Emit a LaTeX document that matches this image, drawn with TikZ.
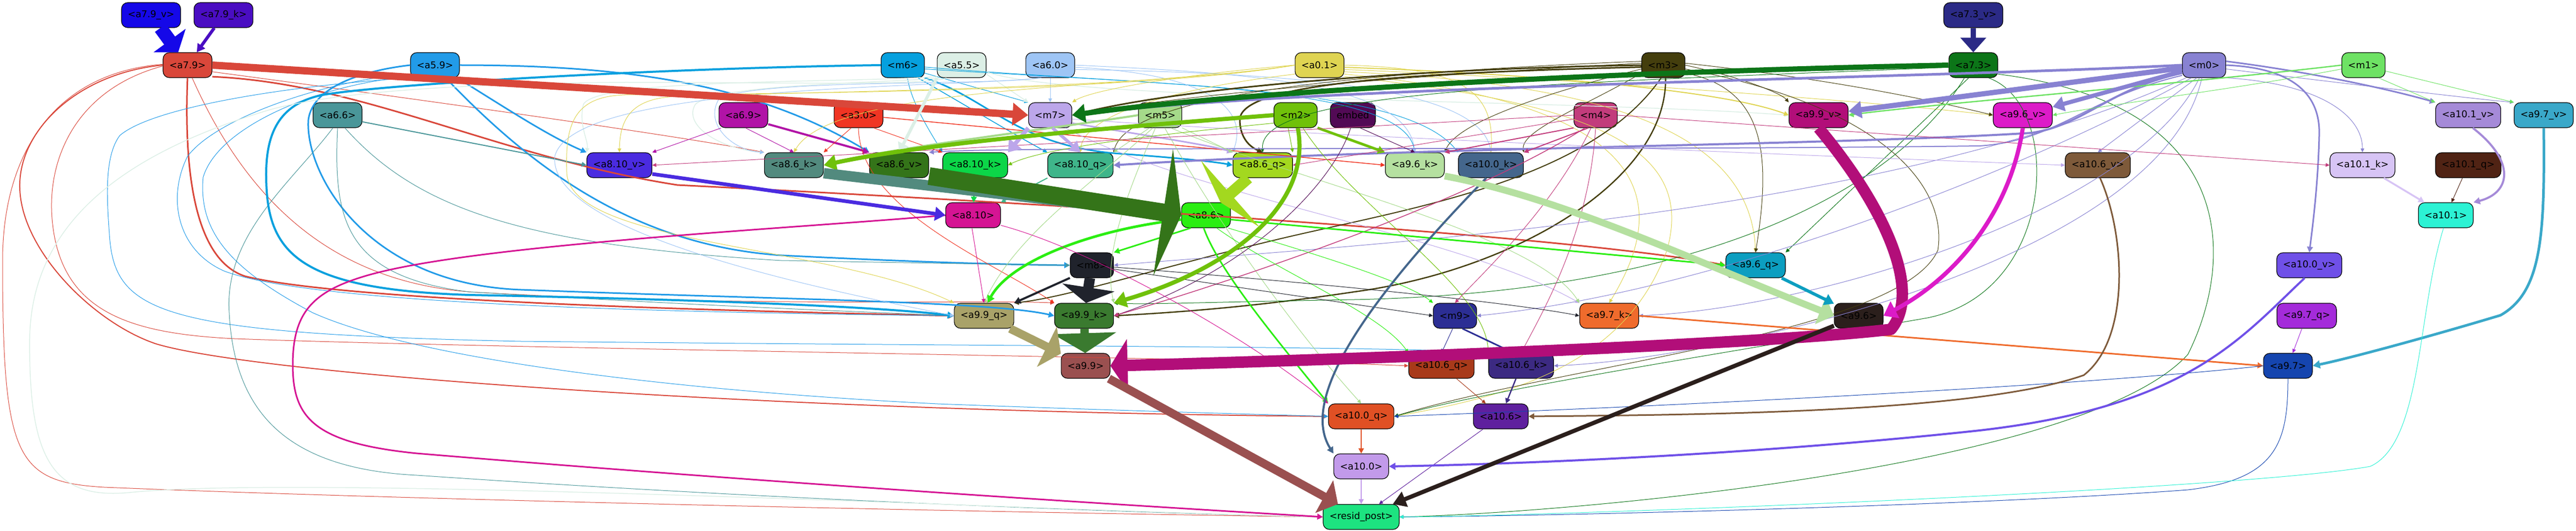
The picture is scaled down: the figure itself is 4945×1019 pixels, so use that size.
\documentclass[tikz,border=0pt]{standalone}
\usepackage{fontspec}
\setmainfont{DejaVu Sans}
\usetikzlibrary{arrows.meta}
\definecolor{ca79v}{HTML}{1508E8}
\definecolor{ca79k}{HTML}{4A0DC2}
\definecolor{ca79}{HTML}{D9473A}
\definecolor{ca59}{HTML}{229BE8}
\definecolor{ca66}{HTML}{4A9699}
\definecolor{cm6}{HTML}{06A0DE}
\definecolor{ca55}{HTML}{DCEFE6}
\definecolor{ca60}{HTML}{9EC5F5}
\definecolor{ca01}{HTML}{DFD452}
\definecolor{cm3}{HTML}{443E0D}
\definecolor{ca73v}{HTML}{2B2A86}
\definecolor{ca73}{HTML}{0C7518}
\definecolor{cm0}{HTML}{8882D2}
\definecolor{cm1}{HTML}{6EE264}
\definecolor{ca69}{HTML}{B113A6}
\definecolor{ca30}{HTML}{F03523}
\definecolor{cm7}{HTML}{BCA6EA}
\definecolor{cm5}{HTML}{A5DA8A}
\definecolor{cm2}{HTML}{70C10A}
\definecolor{cemb}{HTML}{520A55}
\definecolor{cm4}{HTML}{C23C7C}
\definecolor{ca99v}{HTML}{B20E79}
\definecolor{ca96v}{HTML}{DC1BC8}
\definecolor{ca101v}{HTML}{A58AD8}
\definecolor{ca97v}{HTML}{3AA8C9}
\definecolor{ca810v}{HTML}{4A2BE0}
\definecolor{ca86k}{HTML}{528A7E}
\definecolor{ca86v}{HTML}{347419}
\definecolor{ca810k}{HTML}{0CD648}
\definecolor{ca810q}{HTML}{3FB58A}
\definecolor{ca86q}{HTML}{A3D81F}
\definecolor{ca96k}{HTML}{B5E0A0}
\definecolor{ca100k}{HTML}{44668C}
\definecolor{ca106v}{HTML}{7E5A3A}
\definecolor{ca101k}{HTML}{D7C4F5}
\definecolor{ca101q}{HTML}{502314}
\definecolor{ca810}{HTML}{D51493}
\definecolor{ca86}{HTML}{2BEE12}
\definecolor{ca101}{HTML}{2CF2D4}
\definecolor{cm8}{HTML}{20232C}
\definecolor{ca96q}{HTML}{0C9EC0}
\definecolor{ca100v}{HTML}{6F50E8}
\definecolor{ca99q}{HTML}{A9A269}
\definecolor{ca99k}{HTML}{3A7A2F}
\definecolor{cm9}{HTML}{2C2E94}
\definecolor{ca97k}{HTML}{EF6B2C}
\definecolor{ca96}{HTML}{2B1F1C}
\definecolor{ca97q}{HTML}{A42BDA}
\definecolor{ca106q}{HTML}{A83A1A}
\definecolor{ca106k}{HTML}{3C2A82}
\definecolor{ca99}{HTML}{9A5050}
\definecolor{ca97}{HTML}{1545AF}
\definecolor{ca100q}{HTML}{E05024}
\definecolor{ca106}{HTML}{5F209E}
\definecolor{ca100}{HTML}{C29AEA}
\definecolor{crp}{HTML}{1DE380}
\tikzset{
 nd/.style={draw=black,line width=1.2pt,rounded corners=12pt,minimum height=48pt,inner xsep=12pt,inner ysep=0pt,font=\fontsize{18}{20}\selectfont,text=black},
 eg/.style 2 args={draw=#1,line width=#2pt,line join=round,-{Triangle[length=6pt 1.6,width=5pt 2]}},
 hv/.style n args={4}{draw=#1,line width=#2pt,line join=round,-{Triangle[length=#3pt,width=#4pt]}},
}
\begin{document}
\begin{tikzpicture}[x=1pt,y=-1pt]
\useasboundingbox (0,0) rectangle (4945,1019);
% nodes
\node[nd,fill=ca79v] (a79v) at (290,29) {<a7.9\_v>};
\node[nd,fill=ca79k] (a79k) at (429,29) {<a7.9\_k>};
\node[nd,fill=ca73v] (a73v) at (3788,29) {<a7.3\_v>};
\node[nd,fill=ca79] (a79) at (360,125) {<a7.9>};
\node[nd,fill=ca59] (a59) at (835,125) {<a5.9>};
\node[nd,fill=cm6] (m6) at (1733,125) {<m6>};
\node[nd,fill=ca55] (a55) at (1846,125) {<a5.5>};
\node[nd,fill=ca60] (a60) at (2016,125) {<a6.0>};
\node[nd,fill=ca01] (a01) at (2533,125) {<a0.1>};
\node[nd,fill=cm3] (m3) at (3193,125) {<m3>};
\node[nd,fill=ca73] (a73) at (3788,125) {<a7.3>};
\node[nd,fill=cm0] (m0) at (4231,125) {<m0>};
\node[nd,fill=cm1] (m1) at (4537,125) {<m1>};
\node[nd,fill=ca66] (a66) at (648,221) {<a6.6>};
\node[nd,fill=ca69] (a69) at (1427,221) {<a6.9>};
\node[nd,fill=ca30] (a30) at (1648,221) {<a3.0>};
\node[nd,fill=cm7] (m7) at (2016,221) {<m7>};
\node[nd,fill=cm5] (m5) at (2227,221) {<m5>};
\node[nd,fill=cm2] (m2) at (2487,221) {<m2>};
\node[nd,fill=cemb] (emb) at (2597,221) {embed};
\node[nd,fill=cm4] (m4) at (3063,221) {<m4>};
\node[nd,fill=ca99v] (a99v) at (3491,221) {<a9.9\_v>};
\node[nd,fill=ca96v] (a96v) at (3883,221) {<a9.6\_v>};
\node[nd,fill=ca101v] (a101v) at (4738,221) {<a10.1\_v>};
\node[nd,fill=ca97v] (a97v) at (4883,221) {<a9.7\_v>};
\node[nd,fill=ca810v] (a810v) at (1189,317) {<a8.10\_v>};
\node[nd,fill=ca86k] (a86k) at (1524,317) {<a8.6\_k>};
\node[nd,fill=ca86v] (a86v) at (1726,317) {<a8.6\_v>};
\node[nd,fill=ca810k] (a810k) at (1872,317) {<a8.10\_k>};
\node[nd,fill=ca810q] (a810q) at (2074,317) {<a8.10\_q>};
\node[nd,fill=ca86q] (a86q) at (2424,317) {<a8.6\_q>};
\node[nd,fill=ca96k] (a96k) at (2716,317) {<a9.6\_k>};
\node[nd,fill=ca100k] (a100k) at (2862,317) {<a10.0\_k>};
\node[nd,fill=ca106v] (a106v) at (4027,317) {<a10.6\_v>};
\node[nd,fill=ca101k] (a101k) at (4535,317) {<a10.1\_k>};
\node[nd,fill=ca101q] (a101q) at (4738,317) {<a10.1\_q>};
\node[nd,fill=ca810] (a810) at (1868,413) {<a8.10>};
\node[nd,fill=ca86] (a86) at (2315,413) {<a8.6>};
\node[nd,fill=ca101] (a101) at (4695,413) {<a10.1>};
\node[nd,fill=cm8] (m8) at (2096,509) {<m8>};
\node[nd,fill=ca96q] (a96q) at (3370,509) {<a9.6\_q>};
\node[nd,fill=ca100v] (a100v) at (4433,509) {<a10.0\_v>};
\node[nd,fill=ca99q] (a99q) at (1889,606) {<a9.9\_q>};
\node[nd,fill=ca99k] (a99k) at (2081,606) {<a9.9\_k>};
\node[nd,fill=cm9] (m9) at (2793,606) {<m9>};
\node[nd,fill=ca97k] (a97k) at (3089,606) {<a9.7\_k>};
\node[nd,fill=ca96] (a96) at (3568,606) {<a9.6>};
\node[nd,fill=ca97q] (a97q) at (4428,606) {<a9.7\_q>};
\node[nd,fill=ca99] (a99) at (2084,702) {<a9.9>};
\node[nd,fill=ca106q] (a106q) at (2767,702) {<a10.6\_q>};
\node[nd,fill=ca106k] (a106k) at (2920,702) {<a10.6\_k>};
\node[nd,fill=ca97] (a97) at (4392,702) {<a9.7>};
\node[nd,fill=ca100q] (a100q) at (2613,799) {<a10.0\_q>};
\node[nd,fill=ca106] (a106) at (2881,799) {<a10.6>};
\node[nd,fill=ca100] (a100) at (2613,895) {<a10.0>};
\node[nd,fill=crp] (rp) at (2613,992) {<resid\_post>};
% a7.9 thin
\draw[eg={ca79}{1}] (a79.-15) .. controls (800,190) and (1300,260) .. (a86k.north west);
\draw[eg={ca79}{3}] (a79.-25) .. controls (700,160) and (950,300) .. (1300,355) .. controls (2000,390) and (3000,450) .. (a96q.west);
\draw[eg={ca79}{3}] (a79.south) .. controls (352,350) and (380,500) .. (470,530) .. controls (650,575) and (1300,595) .. (a99q.west);
\draw[eg={ca79}{2}] (a79.west) .. controls (150,140) and (35,250) .. (38,360) .. controls (40,480) and (180,620) .. (300,660) .. controls (500,720) and (1500,790) .. (a100q.west);
\draw[eg={ca79}{1}] (a79.182) .. controls (150,170) and (90,300) .. (100,420) .. controls (115,600) and (250,640) .. (450,650) .. controls (1000,670) and (2300,685) .. (a106q.west);
\draw[eg={ca79}{1}] (a79.178) .. controls (100,140) and (5,300) .. (5,500) .. controls (5,880) and (30,925) .. (200,935) .. controls (800,960) and (2000,985) .. (rp.west);
\draw[eg={ca79}{1}] (a79.-70) .. controls (480,400) and (650,540) .. (900,560) .. controls (1400,590) and (1900,575) .. (a99k.north west);
% a5.9
\draw[eg={ca59}{3}] (a59.-30) .. controls (960,200) and (1050,260) .. (a810v.north west);
\draw[eg={ca59}{3}] (a59.east) .. controls (1200,125) and (1450,160) .. (a86v.north west);
\draw[eg={ca59}{3}] (a59.-50) .. controls (1000,300) and (1200,470) .. (1500,490) .. controls (1800,505) and (1950,508) .. (m8.west);
\draw[eg={ca59}{3}] (a59.west) .. controls (700,135) and (600,165) .. (592,230) .. controls (585,330) and (700,545) .. (1000,556) .. controls (1500,575) and (1900,578) .. (a99k.west);
\draw[eg={ca59}{1}] (a59.200) .. controls (650,150) and (420,220) .. (360,300) .. controls (320,380) and (340,480) .. (430,520) .. controls (600,585) and (1300,600) .. (a99q.west);
\draw[eg={ca59}{1}] (a59.205) .. controls (620,160) and (420,240) .. (390,340) .. controls (380,450) and (450,520) .. (600,600) .. controls (800,690) and (1300,750) .. (1800,775) .. controls (2200,790) and (2450,796) .. (a100q.west);
\draw[eg={ca59}{1}] (a59.210) .. controls (600,160) and (300,200) .. (230,260) .. controls (200,300) and (205,380) .. (210,450) .. controls (220,600) and (300,640) .. (1000,655) .. controls (2000,665) and (2700,665) .. (a106k.north west);
% a6.6
\draw[eg={ca66}{2}] (a66.-15) -- (a810v.west);
\draw[eg={ca66}{1}] (a66.250) .. controls (560,350) and (430,450) .. (440,600) .. controls (450,800) and (560,900) .. (800,912) .. controls (1500,960) and (2200,985) .. (rp.west);
\draw[eg={ca66}{1}] (a66.-60) .. controls (800,400) and (1000,470) .. (1500,500) .. controls (1800,505) and (1950,508) .. (m8.west);
\draw[eg={ca66}{1}] (a66.-90) .. controls (640,420) and (660,530) .. (900,560) .. controls (1400,590) and (1700,600) .. (a99q.west);
% m6
\draw[eg={cm6}{4}] (m6.west) .. controls (1300,130) and (750,160) .. (620,182) .. controls (540,198) and (512,250) .. (511,330) .. controls (510,480) and (560,555) .. (900,566) .. controls (1400,576) and (1700,590) .. (a99q.west);
\draw[eg={cm6}{1}] (m6.-20) -- (m7.north west);
\draw[eg={cm6}{1.5}] (m6.-40) .. controls (1850,200) and (1950,260) .. (a810q.north west);
\draw[eg={cm6}{3}] (m6.-30) .. controls (1900,190) and (1950,280) .. (2150,295) .. controls (2250,302) and (2330,310) .. (a86q.west);
\draw[eg={cm6}{1}] (m6.-70) .. controls (1750,200) and (1790,260) .. (a810k.north west);
\draw[eg={cm6}{1}] (m6.-5) .. controls (2200,165) and (2690,160) .. (a96k.north);
\draw[eg={cm6}{1}] (m6.-10) .. controls (2300,165) and (2700,170) .. (a100k.north west);
% a5.5
\draw[eg={ca55}{1.5}] (a55.-20) -- (m7.north west);
\draw[eg={ca55}{1.5}] (a55.-15) .. controls (2050,195) and (3000,190) .. (a99v.west);
\draw[eg={ca55}{1.5}] (a55.210) .. controls (1700,160) and (1380,160) .. (1335,200) .. controls (1310,240) and (1380,285) .. (a86k.north west);
\draw[eg={ca55}{1.5}] (a55.205) .. controls (1600,160) and (1150,150) .. (1120,200) .. controls (1110,240) and (1130,270) .. (a810v.north west);
\draw[eg={ca55}{1.5}] (a55.220) .. controls (1780,165) and (1500,158) .. (1200,158) .. controls (900,160) and (650,175) .. (520,210) .. controls (250,290) and (60,420) .. (57,650) .. controls (55,880) and (100,960) .. (250,945) .. controls (600,910) and (2000,980) .. (rp.west);
% a6.0
\draw[eg={ca60}{1}] (a60) -- (m7);
\draw[eg={ca60}{1}] (a60.230) .. controls (1900,165) and (1450,150) .. (1380,190) .. controls (1350,240) and (1410,290) .. (a86k.north west);
\draw[eg={ca60}{1}] (a60.east) .. controls (2400,140) and (2700,160) .. (a96k.north);
\draw[eg={ca60}{1}] (a60.-10) .. controls (2500,140) and (2840,170) .. (a100k.north);
\draw[eg={ca60}{1}] (a60.-5) .. controls (2300,140) and (2400,200) .. (a86q.north west);
\draw[eg={ca60}{1}] (a60.235) .. controls (1800,170) and (1100,160) .. (1065,300) .. controls (1050,450) and (1600,560) .. (a99q.west);
% a0.1
\draw[eg={ca01}{1}] (a01.west) .. controls (2300,140) and (2100,170) .. (m7.north east);
\draw[eg={ca01}{1}] (a01.west) .. controls (2200,170) and (1600,160) .. (a86k.north);
\draw[eg={ca01}{1}] (a01.west) .. controls (2200,170) and (1600,175) .. (1300,185) .. controls (1220,188) and (1190,220) .. (a810v.north);
\draw[eg={ca01}{1}] (a01.200) .. controls (2250,170) and (2080,220) .. (a810q.north);
\draw[eg={ca01}{1}] (a01.east) .. controls (2800,130) and (2870,170) .. (a100k.north);
\draw[eg={ca01}{2}] (a01.-5) .. controls (2900,140) and (3300,170) .. (a99v.west);
\draw[eg={ca01}{1}] (a01.-10) .. controls (3000,150) and (3600,195) .. (a96v.west);
\draw[eg={ca01}{1}] (a01.-15) .. controls (3100,160) and (3360,260) .. (a96q.north);
\draw[eg={ca01}{1}] (a01.-20) .. controls (3200,200) and (3200,400) .. (a97k.north);
\draw[eg={ca01}{1}] (a01.west) .. controls (2200,175) and (1500,180) .. (1200,182) .. controls (1100,185) and (1085,240) .. (1088,330) .. controls (1090,470) and (1600,470) .. (a99q.north west);
\draw[eg={ca01}{1}] (a01.-25) .. controls (3100,200) and (3250,300) .. (3200,480) .. controls (3120,700) and (2900,760) .. (a100q.east);
% m3
\draw[eg={cm3}{3}] (m3.west) .. controls (2800,130) and (2300,160) .. (m7.east);
\draw[eg={cm3}{1}] (m3.175) .. controls (2800,140) and (2300,175) .. (m7.east);
\draw[eg={cm3}{3}] (m3.185) .. controls (2700,140) and (2380,160) .. (2380,230) .. controls (2380,260) and (2395,280) .. (a86q.north);
\draw[eg={cm3}{1}] (m3.170) .. controls (2600,140) and (2170,180) .. (a810q.north east);
\draw[eg={cm3}{1}] (m3.190) .. controls (3000,170) and (2800,230) .. (a96k.north east);
\draw[eg={cm3}{1}] (m3.200) .. controls (3050,200) and (2920,250) .. (a100k.north east);
\draw[eg={cm3}{1}] (m3.east) .. controls (3350,150) and (3420,180) .. (a99v.north west);
\draw[eg={cm3}{1}] (m3.5) .. controls (3500,150) and (3700,190) .. (a96v.west);
\draw[eg={cm3}{1}] (m3.-20) .. controls (3390,170) and (3400,300) .. (a96q.north);
\draw[eg={cm3}{2.5}] (m3.-80) .. controls (3200,350) and (2900,520) .. (2600,560) .. controls (2400,590) and (2250,600) .. (a99k.east);
\draw[eg={cm3}{2}] (m3.-100) .. controls (3050,350) and (2700,400) .. (2450,460) .. controls (2200,520) and (2050,570) .. (a99q.north east);
\draw[eg={cm3}{1}] (m3.-10) .. controls (3600,200) and (3740,350) .. (3720,480) .. controls (3650,640) and (3000,700) .. (a100q.east);
% a7.3 thin
\draw[eg={ca73}{1}] (a73.250) -- (a96q.north east);
\draw[eg={ca73}{1}] (a73.-20) .. controls (4300,200) and (4290,500) .. (4200,680) .. controls (4000,900) and (3000,985) .. (rp.east);
\draw[eg={ca73}{1}] (a73.185) .. controls (3000,160) and (2415,170) .. (a86q.north);
\draw[eg={ca73}{1}] (a73.-40) .. controls (3960,200) and (3950,560) .. (3700,610) .. controls (3300,680) and (2900,740) .. (a100q.east);
\draw[eg={ca73}{1}] (a73.235) .. controls (3650,350) and (3300,560) .. (2600,575) .. controls (2300,580) and (2200,585) .. (a99k.north east);
% m0
\draw[eg={cm0}{5}] (m0.west) .. controls (3700,150) and (2500,165) .. (m7.east);
\draw[eg={cm0}{4}] (m0.200) .. controls (4050,170) and (4000,240) .. (3900,255) .. controls (3500,280) and (2700,282) .. (a810q.east);
\draw[eg={cm0}{2}] (m0.205) .. controls (4000,190) and (3950,270) .. (3800,280) .. controls (3000,290) and (1950,280) .. (a86v.north east);
\draw[eg={cm0}{3}] (m0.east) .. controls (4400,130) and (4455,180) .. (4452,260) .. controls (4450,350) and (4440,430) .. (a100v.north);
\draw[eg={cm0}{3}] (m0.10) .. controls (4450,140) and (4600,175) .. (a101v.north west);
\draw[eg={cm0}{1}] (m0.-10) .. controls (4500,160) and (4750,190) .. (a97v.north west);
\draw[eg={cm0}{1}] (m0.-30) .. controls (4450,160) and (4535,220) .. (a101k.north);
\draw[eg={cm0}{1}] (m0.240) -- (a106v.north);
\draw[eg={cm0}{1}] (m0.225) .. controls (3900,320) and (3300,560) .. (m9.east);
\draw[eg={cm0}{1}] (m0.250) .. controls (4100,400) and (3500,590) .. (a97k.east);
\draw[eg={cm0}{1}] (m0.260) .. controls (4150,500) and (3300,690) .. (a106k.east);
\draw[eg={cm0}{1}] (m0.215) .. controls (3600,420) and (2600,470) .. (m8.east);
% m1
\draw[eg={cm1}{2.5}] (m1.west) .. controls (4200,160) and (3700,200) .. (a99v.east);
\draw[eg={cm1}{1}] (m1.190) .. controls (4300,170) and (4050,200) .. (a96v.east);
\draw[eg={cm1}{1}] (m1.-40) -- (a101v.north west);
\draw[eg={cm1}{1}] (m1.-15) -- (a97v.north west);
% a6.9, a3.0
\draw[eg={ca69}{4}] (a69.-20) -- (a86v.north west);
\draw[eg={ca69}{1}] (a69.-80) -- (a86k.north);
\draw[eg={ca69}{1}] (a69.-150) -- (a810v.north east);
\draw[eg={ca30}{1}] (a30.-120) -- (a86k.north east);
\draw[eg={ca30}{1}] (a30.-40) -- (a810k.north west);
\draw[eg={ca30}{1.5}] (a30.-5) -- (a96k.west);
\draw[eg={ca30}{1}] (a30.-90) .. controls (1650,400) and (1900,500) .. (a99k.north west);
% m7
\draw[eg={cm7}{3}] (m7.-20) .. controls (2200,260) and (2330,280) .. (a86q.north west);
\draw[eg={cm7}{1}] (m7.-10) .. controls (2500,260) and (3500,300) .. (a106v.west);
\draw[eg={cm7}{1}] (m7.-40) .. controls (2300,380) and (2800,450) .. (a97k.north west);
% m5
\draw[eg={cm5}{4}] (m5.west) .. controls (2000,250) and (1700,285) .. (a86k.east);
\draw[eg={cm5}{1}] (m5.-130) -- (a810q.north east);
\draw[eg={cm5}{1}] (m5.-30) -- (a86q.north west);
\draw[eg={cm5}{1}] (m5.-110) .. controls (2150,400) and (2120,500) .. (a99k.north east);
\draw[eg={cm5}{1}] (m5.-50) .. controls (2500,350) and (2950,450) .. (a97k.north west);
\draw[eg={cm5}{1}] (m5.-70) .. controls (2350,450) and (2500,650) .. (a100q.north);
\draw[eg={cm5}{1}] (m5.-120) .. controls (2100,350) and (1950,450) .. (a99q.north);
% m2
\draw[eg={cm2}{5}] (m2.-30) -- (a96k.north west);
\draw[eg={cm2}{1}] (m2.-160) .. controls (2200,260) and (2000,285) .. (a810k.east);
\draw[eg={cm2}{1}] (m2.-120) -- (a86q.north east);
\draw[eg={cm2}{1}] (m2.-60) .. controls (2600,400) and (2850,550) .. (a106k.north west);
% embed
\draw[eg={cemb}{1}] (emb.-60) -- (a96k.north);
\draw[eg={cemb}{1}] (emb.-100) .. controls (2560,350) and (2400,520) .. (a99k.east);
% m4
\draw[eg={cm4}{1}] (m4.west) -- (a810v.east);
\draw[eg={cm4}{1}] (m4.190) -- (a86q.east);
\draw[eg={cm4}{2}] (m4.-150) -- (a96k.north east);
\draw[eg={cm4}{2}] (m4.-120) -- (a100k.north east);
\draw[eg={cm4}{1}] (m4.east) -- (a101k.west);
\draw[eg={cm4}{1}] (m4.-110) .. controls (2980,400) and (2850,520) .. (m9.north);
\draw[eg={cm4}{1}] (m4.-90) .. controls (3050,450) and (2960,600) .. (a106k.north);
\draw[eg={cm4}{1.5}] (m4.-130) .. controls (2800,400) and (2300,560) .. (a99k.east);
% a8.6
\draw[eg={ca86}{5}] (a86.190) .. controls (2100,440) and (1940,500) .. (a99q.75);
\draw[eg={ca86}{3}] (a86.220) -- (m8.north east);
\draw[eg={ca86}{3}] (a86.-100) .. controls (2340,520) and (2450,650) .. (a100q.north west);
\draw[eg={ca86}{3}] (a86.-10) -- (a96q.west);
\draw[eg={ca86}{1}] (a86.-50) .. controls (2450,520) and (2650,600) .. (a106q.north west);
\draw[eg={ca86}{1}] (a86.-30) .. controls (2500,480) and (2700,540) .. (m9.north west);
% a8.10
\draw[eg={ca810}{3}] (a810.west) .. controls (1500,440) and (900,470) .. (700,530) .. controls (600,560) and (562,600) .. (562,700) .. controls (562,800) and (600,850) .. (800,870) .. controls (1400,920) and (2000,960) .. (rp.west);
\draw[eg={ca810}{1}] (a810.-95) -- (a99q.north);
\draw[eg={ca810}{1}] (a810.-20) .. controls (2100,480) and (2400,650) .. (a100q.north west);
% m8, m9
\draw[eg={cm8}{4}] (m8.-150) -- (a99q.north east);
\draw[eg={cm8}{1}] (m8.-10) -- (m9.west);
\draw[eg={cm8}{1}] (m8.-5) .. controls (2500,540) and (2900,580) .. (a97k.west);
\draw[eg={cm9}{3}] (m9.-60) -- (a106k.120);
\draw[eg={cm9}{1}] (m9.-100) -- (a106q.north);
% a9.7
\draw[eg={ca97k}{3}] (a97k.east) -- (a97.west);
\draw[eg={ca97q}{1}] (a97q) -- (a97);
\draw[eg={ca97v}{5}] (a97v.south) .. controls (4885,450) and (4880,560) .. (4800,605) .. controls (4650,650) and (4500,690) .. (a97.east);
\draw[eg={ca97}{1}] (a97.south) .. controls (4392,850) and (4370,920) .. (4200,940) .. controls (3800,970) and (3000,990) .. (rp.east);
\draw[eg={ca97}{1}] (a97.west) .. controls (4000,740) and (3200,780) .. (a100q.east);
% a10.x
\draw[eg={ca101k}{3.5}] (a101k) -- (a101);
\draw[eg={ca101v}{4}] (a101v.-70) .. controls (4830,310) and (4820,370) .. (a101.north east);
\draw[eg={ca101q}{1}] (a101q) -- (a101);
\draw[eg={ca101}{1}] (a101.-100) .. controls (4640,600) and (4650,850) .. (4550,895) .. controls (4300,940) and (3000,990) .. (rp.east);
\draw[eg={ca106v}{3}] (a106v.-80) .. controls (4080,450) and (4090,650) .. (4000,720) .. controls (3800,790) and (3300,796) .. (a106.east);
\draw[eg={ca106k}{2.5}] (a106k) -- (a106);
\draw[eg={ca106q}{1}] (a106q) -- (a106);
\draw[eg={ca106}{1}] (a106) -- (rp);
\draw[eg={ca100v}{4}] (a100v.-110) .. controls (4300,650) and (4200,780) .. (3800,826) .. controls (3300,880) and (2800,893) .. (a100.east);
\draw[eg={ca100k}{4}] (a100k.-110) .. controls (2640,560) and (2490,760) .. (a100.north west);
\draw[eg={ca100q}{2.5}] (a100q) -- (a100);
\draw[eg={ca100}{2}] (a100) -- (rp);
% heavy edges
\draw[hv={ca79v}{26}{28}{75}] (a79v) -- (a79);
\draw[eg={ca79k}{6}] (a79k) -- (a79);
\draw[hv={ca79}{14}{30}{42}] (a79.east) -- (m7.west);
\draw[hv={ca73v}{10}{28}{48}] (a73v) -- (a73);
\draw[hv={ca73}{10}{25}{35}] (a73.west) .. controls (3000,140) and (2350,180) .. (m7.east);
\draw[hv={cm0}{10}{25}{32}] (m0) -- (a99v);
\draw[hv={cm0}{8}{22}{28}] (m0) -- (a96v);
\draw[hv={ca55}{6}{18}{22}] (a55.south west) -- (a86v.north);
\draw[hv={cm7}{8}{22}{30}] (m7.south west) -- (a810k.north east);
\draw[hv={cm7}{6}{20}{24}] (m7.-80) -- (a810q.north);
\draw[hv={cm2}{8}{24}{30}] (m2.west) .. controls (2200,240) and (1800,270) .. (a86k.east);
\draw[hv={cm2}{8}{24}{30}] (m2.-80) .. controls (2520,400) and (2350,520) .. (a99k.north east);
\draw[hv={ca810v}{7}{20}{26}] (a810v.-15) -- (a810.west);
\draw[eg={ca810k}{3}] (a810k) -- (a810);
\draw[eg={ca810q}{2}] (a810q.south west) -- (a810.north east);
\draw[hv={ca86k}{20}{30}{80}] (a86k.-15) -- (a86.west);
\draw[hv={ca86v}{34}{35}{245}] (a86v.-20) -- (a86.west);
\draw[hv={ca86q}{22}{25}{170}] (a86q) -- (a86);
\draw[hv={cm8}{20}{30}{100}] (m8) -- (a99k);
\draw[hv={ca99k}{16}{38}{120}] (a99k) -- (a99);
\draw[hv={ca99q}{16}{30}{85}] (a99q) -- (a99);
\draw[hv={ca99v}{22}{33}{100}] (a99v.south) .. controls (3620,400) and (3690,560) .. (3630,632) .. controls (3400,660) and (2600,690) .. (a99.east);
\draw[hv={ca99}{16}{30}{70}] (a99) -- (rp);
\draw[hv={ca96k}{13}{28}{55}] (a96k.-20) .. controls (3000,380) and (3250,500) .. (a96.west);
\draw[hv={ca96q}{6}{18}{22}] (a96q) -- (a96);
\draw[hv={ca96v}{8}{25}{35}] (a96v.south) .. controls (3860,400) and (3760,530) .. (a96.east);
\draw[hv={ca96}{8}{25}{30}] (a96) -- (rp);
\end{tikzpicture}
\end{document}
